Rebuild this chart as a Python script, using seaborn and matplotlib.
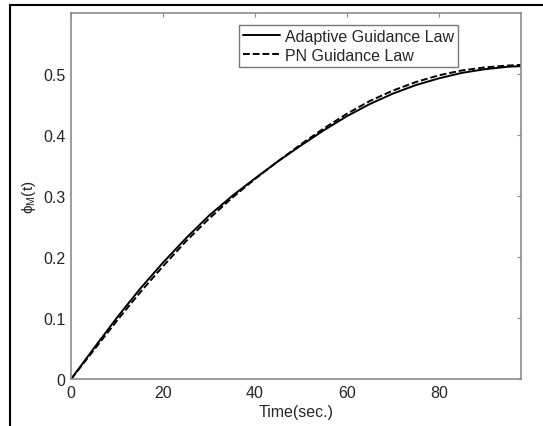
import matplotlib
matplotlib.use("Agg")
import matplotlib.pyplot as plt
import seaborn as sns
import pandas as pd
from matplotlib.patches import Rectangle

# values
t = [0, 5, 10, 15, 20, 25, 30, 35, 40, 45, 50, 55, 60, 65, 70, 75, 80, 85, 90, 95, 97.8]
adaptive = [0, 0.051, 0.101, 0.148, 0.191, 0.231, 0.268, 0.300, 0.329, 0.357, 0.383,
            0.408, 0.431, 0.451, 0.468, 0.482, 0.493, 0.502, 0.508, 0.512, 0.513]
pn = [0, 0.048, 0.096, 0.142, 0.185, 0.226, 0.263, 0.297, 0.328, 0.357, 0.385,
      0.411, 0.435, 0.456, 0.473, 0.487, 0.498, 0.506, 0.511, 0.514, 0.515]
labels = ["Adaptive Guidance Law", "PN Guidance Law"]

df = pd.concat([
    pd.DataFrame({"t": t, "phi": adaptive, "law": labels[0]}),
    pd.DataFrame({"t": t, "phi": pn, "law": labels[1]}),
])

sns.set_style("white")
plt.rcParams["font.family"] = ["Liberation Sans", "DejaVu Sans"]
plt.rcParams["mathtext.fontset"] = "dejavusans"

fig = plt.figure(figsize=(5.43, 4.27), dpi=100)
ax = fig.add_axes([0.131, 0.110, 0.828, 0.857])

sns.lineplot(data=df, x="t", y="phi", hue="law", style="law",
             palette=["black", "black"], dashes=[(None, None), (4, 2)],
             linewidth=1.4, ax=ax, legend=False)
ax.lines[0].set_linestyle("-")
ax.lines[1].set_dashes((3.5, 1.5))

ax.set_xlim(0, 97.8)
ax.set_ylim(0, 0.6)
ax.set_xticks([0, 20, 40, 60, 80])
ax.set_yticks([0, 0.1, 0.2, 0.3, 0.4, 0.5])
ax.set_yticklabels(["0", "0.1", "0.2", "0.3", "0.4", "0.5"])
ax.tick_params(direction="in", length=3, width=0.8, color="#909090",
               labelsize=11.5, top=True, right=True, pad=4)
for s in ax.spines.values():
    s.set_color("#8c8c8c")
    s.set_linewidth(1.2)

ax.set_xlabel("Time(sec.)", fontsize=11.5, labelpad=3)
ax.set_ylabel(r"$\mathregular{\phi_M(t)}$", fontsize=11, labelpad=4)

leg = ax.legend(ax.lines[:2], labels, loc="upper right",
                bbox_to_anchor=(0.878, 0.99), fontsize=11.5, frameon=True,
                fancybox=False, handlelength=2.3, handletextpad=0.3,
                borderpad=0.25, labelspacing=0.25)
leg.get_frame().set_edgecolor("#555555")
leg.get_frame().set_linewidth(1.0)

# outer frame of the figure image
fig.patches.append(Rectangle((10 / 543, -0.1), 1.2, 1 - 6 / 427 + 0.1,
                             transform=fig.transFigure, fill=False,
                             edgecolor="black", linewidth=1.5))

fig.savefig("out.png", dpi=100)
